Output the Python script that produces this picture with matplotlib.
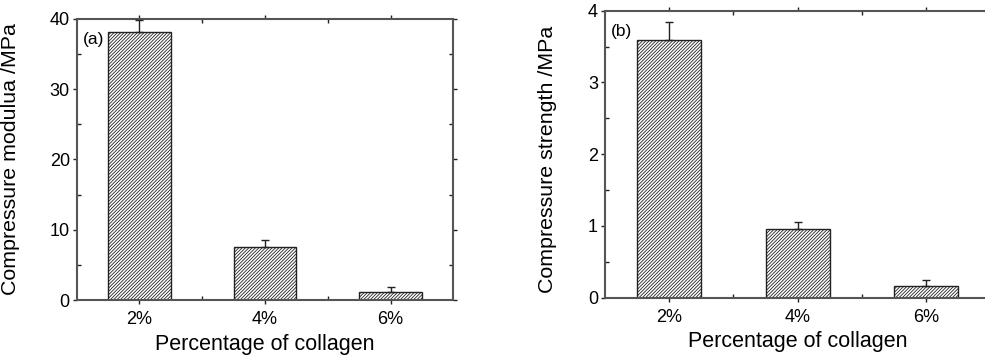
import numpy as np
import matplotlib
matplotlib.use("Agg")
import matplotlib.pyplot as plt
from matplotlib.ticker import MultipleLocator, FixedLocator

plt.rcParams['font.family'] = ['Liberation Sans', 'DejaVu Sans']
plt.rcParams['hatch.linewidth'] = 0.6
plt.rcParams['hatch.color'] = '#222222'

categories = ['2%', '4%', '6%']
modulus = [38.2, 7.6, 1.2]
modulus_err = [1.7, 0.95, 0.6]
strength = [3.59, 0.96, 0.17]
strength_err = [0.25, 0.095, 0.08]

x = np.arange(1, len(categories) + 1)
spine_col = '#555555'

fig = plt.figure(figsize=(9.85, 3.58), dpi=100)
ax1 = fig.add_axes([0.0779, 0.162, 0.3823, 0.785])
ax2 = fig.add_axes([0.6142, 0.1684, 0.3914, 0.8017])


def draw(ax, vals, errs, ylim, major, minor, ylabel, tag):
    ax.bar(x, vals, width=0.5, color='white', edgecolor='#222222',
           linewidth=1.0, hatch='//////////', zorder=2)
    ax.errorbar(x, vals, yerr=[np.zeros(len(errs)), errs], fmt='none',
                ecolor='#222222', elinewidth=1.0, capsize=3, capthick=1.0,
                zorder=3, clip_on=False)
    ax.set_xlim(0.5, 3.5)
    ax.set_ylim(*ylim)
    ax.set_xticks(x)
    ax.set_xticklabels(categories)
    ax.xaxis.set_minor_locator(FixedLocator([1.5, 2.5]))
    ax.yaxis.set_major_locator(MultipleLocator(major))
    ax.yaxis.set_minor_locator(MultipleLocator(minor))
    for s in ax.spines.values():
        s.set_color(spine_col)
        s.set_linewidth(1.5)
    ax.tick_params(which='major', direction='out', length=3, width=1,
                   color='#222222', labelsize=13, top=True, right=True)
    ax.tick_params(which='minor', direction='in', length=3, width=1,
                   color='#222222', top=True, right=True)
    ax.tick_params(axis='y', which='major', pad=2)
    ax.tick_params(axis='x', which='major', pad=5)
    ax.set_ylabel(ylabel, fontsize=15.4)
    ax.set_xlabel('Percentage of collagen', fontsize=15.5, labelpad=4)
    ax.text(0.015, 0.955, tag, transform=ax.transAxes, fontsize=12.5,
            ha='left', va='top')


draw(ax1, modulus, modulus_err, (0, 40), 10, 5,
     'Compressure modulua /MPa', '(a)')
draw(ax2, strength, strength_err, (0, 4), 1, 0.5,
     'Compressure strength /MPa', '(b)')

ax1.yaxis.set_label_coords(-0.15, 0.5)
ax2.yaxis.set_label_coords(-0.125, 0.483)

fig.savefig('out.png', dpi=100)
